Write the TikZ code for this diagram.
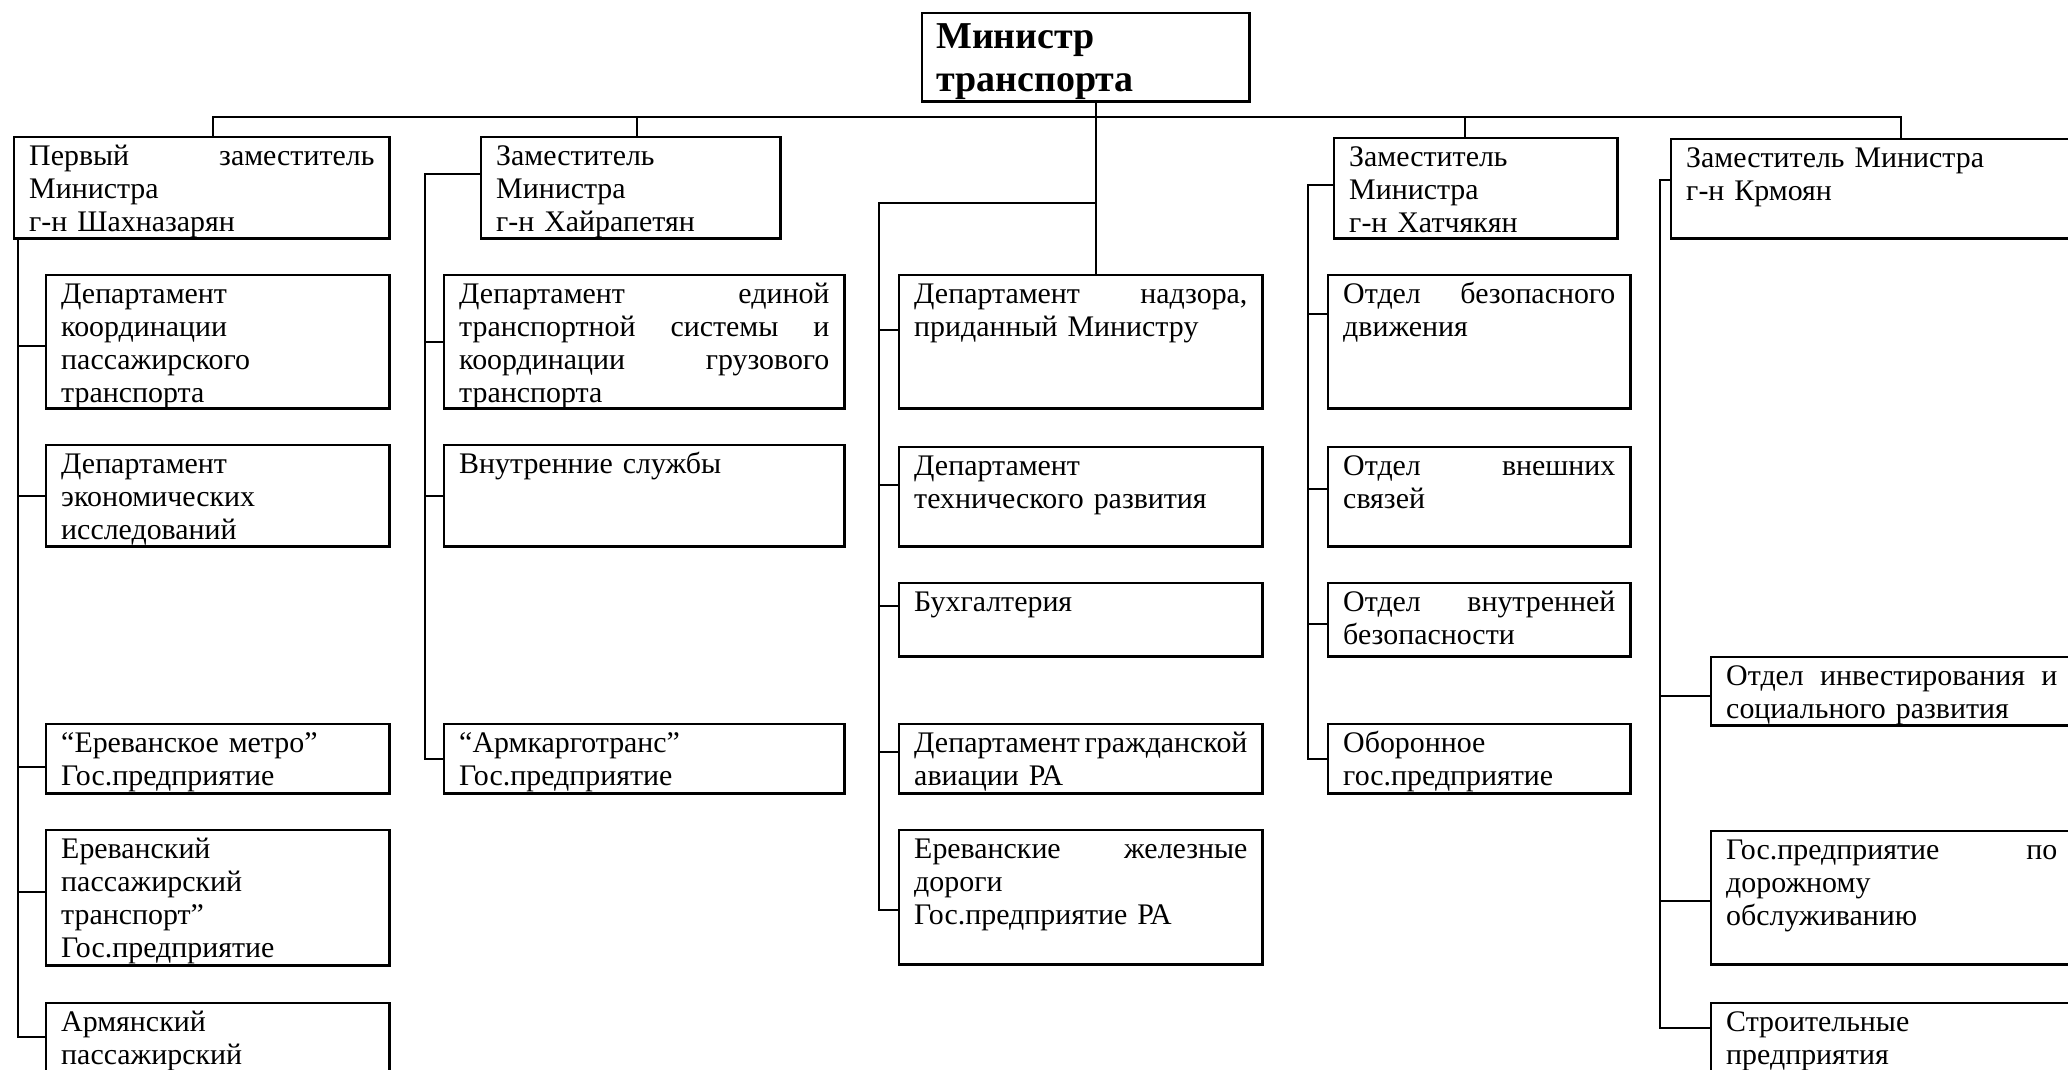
\documentclass[tikz,border=0pt]{standalone}
\usepackage{fontspec}
\setmainfont{Liberation Serif}
\usepackage{tikz}
\usetikzlibrary{positioning}

\begin{document}
\begin{tikzpicture}[
  x=0.01cm, y=-0.01cm,
  font=\fontsize{8.5}{9.4}\selectfont,
  box/.style={
    draw,
    line width=0.7pt,
    anchor=north west,
    align=left,
    inner xsep=0.15cm,
    inner ysep=0pt,
    text height=0.28cm
  },
  link/.style={line width=0.6pt}
]
\clip (0,0) rectangle (2068,1070);
\node[box, font=\fontsize{10.8}{12.2}\selectfont\bfseries, inner xsep=0.14cm, text height=0.35cm, text width=2.99cm, text depth=0.53cm] (minister) at (921,12) {Министр\\транспорта};
\node[box, text width=3.45cm, text depth=0.73cm] (perv) at (13,136) {Первый\hfill заместитель\\Министра\\г-н Шахназарян};
\node[box, text width=3.13cm, text depth=1.05cm] (kpt) at (45,274) {Департамент\\координации\\пассажирского\\транспорта};
\node[box, text width=3.13cm, text depth=0.73cm] (econ) at (45,444) {Департамент\\экономических\\исследований};
\node[box, text width=3.13cm, text depth=0.41cm] (metro) at (45,723) {“Ереванское метро”\\Гос.предприятие};
\node[box, text width=3.13cm, text depth=1.07cm] (epass) at (45,829) {Ереванский\\пассажирский\\транспорт”\\Гос.предприятие};
\node[box, text width=3.13cm, text depth=0.92cm] (apass) at (45,1002) {Армянский\\пассажирский};
\node[box, text width=2.69cm, text depth=0.73cm] (hayr) at (480,136) {Заместитель\\Министра\\г-н Хайрапетян};
\node[box, text width=3.70cm, text depth=1.05cm] (ets) at (443,274) {Департамент\hfill единой\\транспортной\hfill системы\hfill и\\координации\hfill грузового\\транспорта};
\node[box, text width=3.70cm, text depth=0.73cm] (vnutr) at (443,444) {Внутренние службы};
\node[box, text width=3.70cm, text depth=0.41cm] (armk) at (443,723) {“Армкарготранс”\\Гос.предприятие};
\node[box, text width=3.33cm, text depth=1.05cm] (nadz) at (898,274) {Департамент\hfill надзора,\\приданный Министру};
\node[box, text width=3.33cm, text depth=0.71cm] (tech) at (898,446) {Департамент\\технического развития};
\node[box, text width=3.33cm, text depth=0.45cm] (buh) at (898,582) {Бухгалтерия};
\node[box, text width=3.33cm, text depth=0.41cm] (grazh) at (898,723) {Департамент\hfill гражданской\\авиации РА};
\node[box, text width=3.33cm, text depth=1.06cm] (ezd) at (898,829) {Ереванские\hfill железные\\дороги\\Гос.предприятие РА};
\node[box, text width=2.53cm, text depth=0.72cm] (hatch) at (1333,137) {Заместитель\\Министра\\г-н Хатчякян};
\node[box, text width=2.72cm, text depth=1.05cm] (bezdv) at (1327,274) {Отдел\hfill безопасного\\движения};
\node[box, text width=2.72cm, text depth=0.71cm] (vnesh) at (1327,446) {Отдел\hfill внешних\\связей};
\node[box, text width=2.72cm, text depth=0.45cm] (vnbez) at (1327,582) {Отдел\hfill внутренней\\безопасности};
\node[box, text width=2.72cm, text depth=0.41cm] (obor) at (1327,723) {Оборонное\\гос.предприятие};
\node[box, text width=4.30cm, text depth=0.71cm] (krm) at (1670,138) {Заместитель Министра\\г-н Крмоян};
\node[box, text width=3.31cm, text depth=0.40cm] (inv) at (1710,656) {Отдел\hfill инвестирования\hfill и\\социального развития};
\node[box, text width=3.31cm, text depth=1.05cm] (dor) at (1710,830) {Гос.предприятие\hfill по\\дорожному\\обслуживанию};
\node[box, text width=3.31cm, text depth=0.92cm] (stroi) at (1710,1002) {Строительные\\предприятия};

\coordinate (bus) at (0,117);
\draw[link] ([xshift=0.115cm]perv.north) |- (bus -| krm.north) -- (krm.north);
\draw[link] ([xshift=0.065cm]bus -| hayr.north) -- ([xshift=0.065cm]hayr.north);
\draw[link] ([xshift=-0.105cm]bus -| hatch.north) -- ([xshift=-0.105cm]hatch.north);
\draw[link] ([xshift=0.1cm]minister.south) -- ([xshift=0.1cm]minister.south |- nadz.north);

\coordinate (c1) at ([xshift=0.05cm]perv.south west);
\draw[link] (c1) |- ([yshift=-0.35cm]apass.north west);
\foreach \n/\s in {kpt/-0.04, econ/0, metro/-0.08, epass/0.06}
  \draw[link] (c1) |- ([yshift=\s cm]\n.west);

\coordinate (c2) at ([xshift=-0.55cm,yshift=0.135cm]hayr.west);
\draw[link] ([yshift=0.135cm]hayr.west) -- (c2) |- (armk.west);
\foreach \n in {ets,vnutr}
  \draw[link] (c2) |- (\n.west);

\coordinate (c3) at (879,203);
\draw[link] ([xshift=0.1cm]minister.south |- c3) -- (c3) |- ([yshift=-0.13cm]ezd.west);
\foreach \n/\s in {nadz/0.12, tech/0.12, buh/0.14, grazh/0.07}
  \draw[link] (c3) |- ([yshift=\s cm]\n.west);

\coordinate (c4) at ([xshift=-0.25cm,yshift=0.03cm]hatch.west);
\draw[link] ([yshift=0.03cm]hatch.west) -- (c4) |- (obor.west);
\foreach \n/\s in {bezdv/0.28, vnesh/0.08, vnbez/-0.04}
  \draw[link] (c4) |- ([yshift=\s cm]\n.west);

\coordinate (c5) at ([xshift=-0.1cm,yshift=0.085cm]krm.west);
\draw[link] ([yshift=0.085cm]krm.west) -- (c5) |- ([yshift=-0.26cm]stroi.north west);
\foreach \n/\s in {inv/-0.05, dor/-0.03}
  \draw[link] (c5) |- ([yshift=\s cm]\n.west);
\end{tikzpicture}
\end{document}
